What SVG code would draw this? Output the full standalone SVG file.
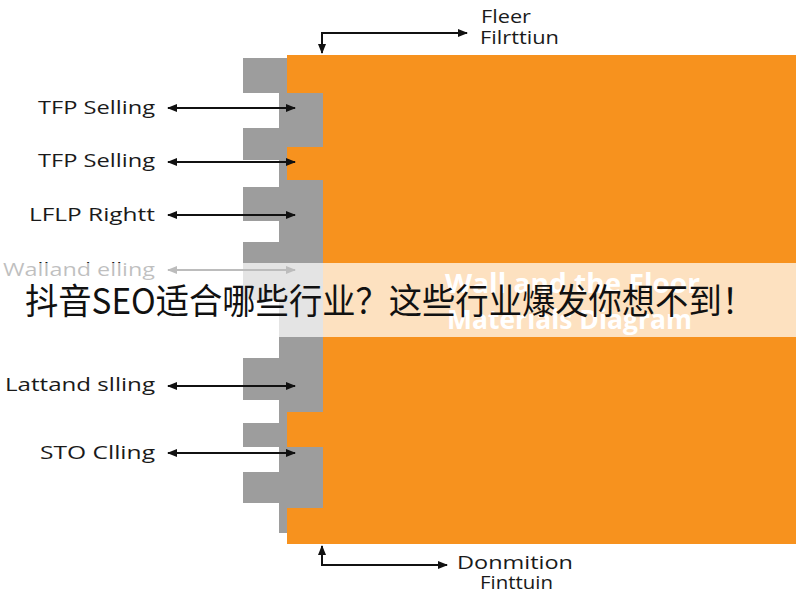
<svg xmlns="http://www.w3.org/2000/svg" width="800" height="600" viewBox="0 0 800 600">
<defs>
<marker id="ah" viewBox="0 0 10 10" refX="9" refY="5" markerWidth="10" markerHeight="10" markerUnits="userSpaceOnUse" orient="auto-start-reverse">
<path d="M0,1 L10,5 L0,9 Z" fill="#111"/>
</marker>
<style>
.gray{fill:#9d9d9d}
.orange{fill:#f7921e}
.lbl{font-family:"Open Sans","Noto Sans",sans-serif;font-size:19px;fill:#1a1a1a}
.con{stroke:#111;stroke-width:2;fill:none;marker-start:url(#ah);marker-end:url(#ah)}
.hid{font-family:"Open Sans","Noto Sans",sans-serif;font-size:26px;font-weight:bold;fill:#ffffff}
.title{font-family:"Noto Sans CJK SC","Noto Sans",sans-serif;font-size:35px;fill:#111}
</style>
</defs>
<rect width="800" height="600" fill="#ffffff"/>
<g id="wall">
<rect class="orange" x="287" y="55" width="509" height="489"/>
<rect class="gray" x="243" y="58" width="44" height="35"/>
<rect class="gray" x="279" y="93" width="8" height="440"/>
<rect class="gray" x="279" y="93" width="44" height="54"/>
<rect class="gray" x="243" y="128" width="36" height="32"/>
<rect class="gray" x="279" y="180" width="44" height="232"/>
<rect class="gray" x="243" y="187" width="36" height="34"/>
<rect class="gray" x="243" y="242" width="36" height="58"/>
<rect class="gray" x="243" y="358" width="36" height="42"/>
<rect class="gray" x="243" y="423" width="36" height="24"/>
<rect class="gray" x="279" y="447" width="44" height="61"/>
<rect class="gray" x="243" y="472" width="36" height="31"/>
<text class="hid" x="445" y="293" textLength="255" lengthAdjust="spacingAndGlyphs">Wall and the Floor</text>
<text class="hid" x="447" y="329" textLength="245" lengthAdjust="spacingAndGlyphs">Materials Diagram</text>
</g>
<g id="label-top">
<text class="lbl" x="481" y="23" textLength="50" lengthAdjust="spacingAndGlyphs">Fleer</text>
<text class="lbl" x="480" y="44" textLength="79" lengthAdjust="spacingAndGlyphs">Filrttiun</text>
</g>
<g id="label-1"><text class="lbl" x="38" y="114" textLength="117" lengthAdjust="spacingAndGlyphs">TFP Selling</text></g>
<g id="label-2"><text class="lbl" x="38" y="167" textLength="117" lengthAdjust="spacingAndGlyphs">TFP Selling</text></g>
<g id="label-3"><text class="lbl" x="29" y="221" textLength="126" lengthAdjust="spacingAndGlyphs">LFLP Rightt</text></g>
<g id="label-4"><text class="lbl" x="3" y="276" textLength="152" lengthAdjust="spacingAndGlyphs">Walland elling</text></g>
<g id="label-5"><text class="lbl" x="5" y="391" textLength="150" lengthAdjust="spacingAndGlyphs">Lattand slling</text></g>
<g id="label-6"><text class="lbl" x="40" y="459" textLength="115" lengthAdjust="spacingAndGlyphs">STO Clling</text></g>
<g id="label-bottom">
<text class="lbl" x="457" y="569" textLength="116" lengthAdjust="spacingAndGlyphs">Donmition</text>
<text class="lbl" x="480" y="589" textLength="73" lengthAdjust="spacingAndGlyphs">Finttuin</text>
</g>
<g id="connectors">
<path class="con" d="M322,53 V33 H467"/>
<path class="con" d="M168,108 H295"/>
<path class="con" d="M168,162 H295"/>
<path class="con" d="M168,215 H295"/>
<path class="con" d="M168,270 H295"/>
<path class="con" d="M168,386 H295"/>
<path class="con" d="M168,453 H295"/>
<path class="con" d="M322,546 V565 H447"/>
</g>
<g id="banner">
<rect x="0" y="263" width="800" height="74" fill="#ffffff" fill-opacity="0.72"/>
<text class="title" x="25" y="314" textLength="730" lengthAdjust="spacingAndGlyphs">抖音SEO适合哪些行业？这些行业爆发你想不到！</text>
</g>
</svg>
